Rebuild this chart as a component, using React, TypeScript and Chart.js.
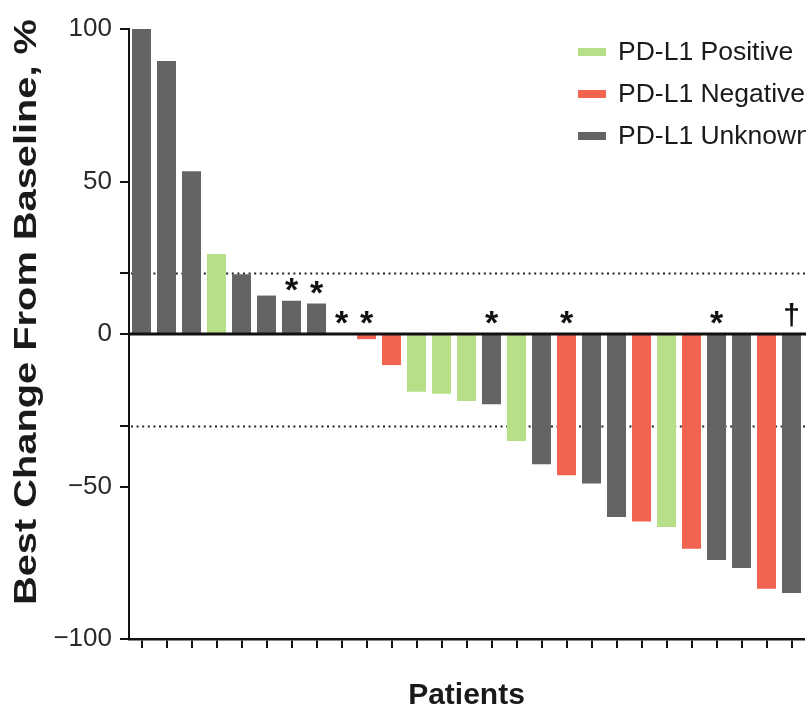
import React, { useEffect, useRef } from 'react';
import { Chart, registerables } from 'chart.js';

Chart.register(...registerables);

// ---- data ----
const patients = [
  'P1', 'P2', 'P3', 'P4', 'P5', 'P6', 'P7', 'P8', 'P9', 'P10', 'P11', 'P12', 'P13', 'P14',
  'P15', 'P16', 'P17', 'P18', 'P19', 'P20', 'P21', 'P22', 'P23', 'P24', 'P25', 'P26', 'P27',
];
const bestChange = [
  100, 89.5, 53.4, 26.2, 19.6, 12.6, 10.9, 10.0, 0, -1.7, -10.2, -18.9, -19.6, -22.0,
  -23.0, -35.1, -42.7, -46.3, -49.0, -60.0, -61.5, -63.3, -70.4, -74.1, -76.7, -83.5, -84.9,
];
// P = positive, N = negative, U = unknown
const pdl1Status = [
  'U', 'U', 'U', 'P', 'U', 'U', 'U', 'U', 'U', 'N', 'N', 'P', 'P', 'P',
  'U', 'P', 'U', 'N', 'U', 'U', 'N', 'P', 'N', 'U', 'U', 'N', 'U',
];
const markers = [
  '', '', '', '', '', '', '*', '*', '*', '*', '', '', '', '',
  '*', '', '', '*', '', '', '', '', '', '*', '', '', '\u2020',
];
const statusKeys = ['P', 'N', 'U'];
const statusLabels = ['PD-L1 Positive', 'PD-L1 Negative', 'PD-L1 Unknown'];
const statusColors = ['#b7df87', '#f26450', '#646464'];
const yTickValues = [-100, -50, -30, 0, 20, 50, 100];
const yLabeledTicks = [-100, -50, 0, 50, 100];
const referenceLines = [20, -30];
const yTitle = 'Best Change From Baseline, %';
const xTitle = 'Patients';

const SANS = "'Liberation Sans', Arial, Helvetica, sans-serif";
const NARROW = "'Liberation Sans Narrow', 'Liberation Sans', Arial, sans-serif";
const INK = '#1a1a1a';

const fmt = (v: number) => (v < 0 ? '\u2212' + Math.abs(v) : String(v));

const refLinesPlugin = {
  id: 'refLines',
  beforeDatasetsDraw(chart: any) {
    const { ctx, chartArea, scales } = chart;
    ctx.save();
    ctx.strokeStyle = '#222';
    ctx.lineWidth = 2;
    ctx.setLineDash([2, 3.6]);
    referenceLines.forEach((v) => {
      const y = Math.round(scales.y.getPixelForValue(v)) + 0.5;
      ctx.beginPath();
      ctx.moveTo(chartArea.left + 2, y);
      ctx.lineTo(chartArea.right + 10, y);
      ctx.stroke();
    });
    ctx.restore();
  },
};

const zeroAndMarkersPlugin = {
  id: 'zeroAndMarkers',
  afterDatasetsDraw(chart: any) {
    const { ctx, chartArea, scales } = chart;
    const y0 = scales.y.getPixelForValue(0);
    ctx.save();
    ctx.strokeStyle = '#111';
    ctx.lineWidth = 3;
    ctx.beginPath();
    ctx.moveTo(chartArea.left, y0);
    ctx.lineTo(chartArea.right + 10, y0);
    ctx.stroke();

    const meta = chart.getDatasetMeta(0);
    ctx.fillStyle = '#111';
    ctx.textAlign = 'center';
    ctx.textBaseline = 'alphabetic';
    markers.forEach((m, i) => {
      if (!m) return;
      const x = meta.data[i].x;
      const top = scales.y.getPixelForValue(Math.max(bestChange[i], 0));
      const isDagger = m === '\u2020';
      ctx.font = isDagger ? `bold 30px ${SANS}` : `bold 34px ${SANS}`;
      const tm = ctx.measureText(m);
      const cy = top - (isDagger ? 19 : 16.5);
      const base = cy + (tm.actualBoundingBoxAscent - tm.actualBoundingBoxDescent) / 2;
      ctx.fillText(m, x, base);
    });
    ctx.restore();
  },
};

const legendAndTitlePlugin = {
  id: 'legendAndTitle',
  afterDraw(chart: any) {
    const { ctx } = chart;
    ctx.save();
    // legend
    statusLabels.forEach((label, k) => {
      const cy = 52 + k * 42;
      ctx.fillStyle = statusColors[k];
      ctx.fillRect(578, cy - 4, 28, 8);
      ctx.fillStyle = INK;
      ctx.font = `26.5px ${SANS}`;
      ctx.textAlign = 'left';
      ctx.textBaseline = 'middle';
      ctx.fillText(label, 618, cy + 1);
    });
    // y title (rotated)
    ctx.translate(26, 312);
    ctx.rotate(-Math.PI / 2);
    ctx.font = `bold 31px ${SANS}`;
    const w = ctx.measureText(yTitle).width;
    ctx.scale(586 / w, 1);
    ctx.fillStyle = INK;
    ctx.textAlign = 'center';
    ctx.textBaseline = 'middle';
    ctx.fillText(yTitle, 0, 1);
    ctx.restore();
  },
};

export default function App() {
  const ref = useRef<HTMLCanvasElement | null>(null);

  useEffect(() => {
    if (!ref.current) return;
    const colors = pdl1Status.map((s) => statusColors[statusKeys.indexOf(s)]);
    const chart = new Chart(ref.current, {
      type: 'bar',
      data: {
        labels: patients,
        datasets: [
          {
            label: 'Best change',
            data: bestChange,
            backgroundColor: colors,
            borderWidth: 0,
            barPercentage: 0.76,
            categoryPercentage: 1,
          },
        ],
      },
      options: {
        responsive: false,
        animation: false,
        devicePixelRatio: 1,
        layout: { padding: { top: 29, right: 2, bottom: 0, left: 0 } },
        plugins: { legend: { display: false }, tooltip: { enabled: false } },
        scales: {
          x: {
            afterFit: (s: any) => {
              s.height = 76;
            },
            ticks: { display: false },
            grid: {
              offset: false,
              drawOnChartArea: false,
              drawTicks: true,
              tickLength: 9,
              color: '#111',
              lineWidth: 2,
            },
            border: { display: true, color: '#111', width: 2.5 },
            title: {
              display: true,
              text: xTitle,
              color: INK,
              font: { family: SANS, size: 30, weight: 'bold' },
              padding: { top: 0, bottom: 1 },
            },
          },
          y: {
            min: -100,
            max: 100,
            afterFit: (s: any) => {
              s.width = 129;
            },
            afterBuildTicks: (s: any) => {
              s.ticks = yTickValues.map((v) => ({ value: v }));
            },
            ticks: {
              callback: (v: any) => (yLabeledTicks.includes(Number(v)) ? fmt(Number(v)) : ''),
              color: '#2a2a2a',
              font: { family: NARROW, size: 26 },
              padding: 8,
            },
            grid: {
              drawOnChartArea: false,
              drawTicks: true,
              tickLength: 9,
              color: '#111',
              lineWidth: 2,
            },
            border: { display: true, color: '#111', width: 2 },
          },
        },
      },
      plugins: [refLinesPlugin, zeroAndMarkersPlugin, legendAndTitlePlugin],
    });
    return () => chart.destroy();
  }, []);

  return (
    <div style={{ position: 'fixed', left: 0, top: 0, width: 806, height: 715, background: '#fff' }}>
      <canvas ref={ref} width={806} height={715} style={{ display: 'block' }} />
    </div>
  );
}
